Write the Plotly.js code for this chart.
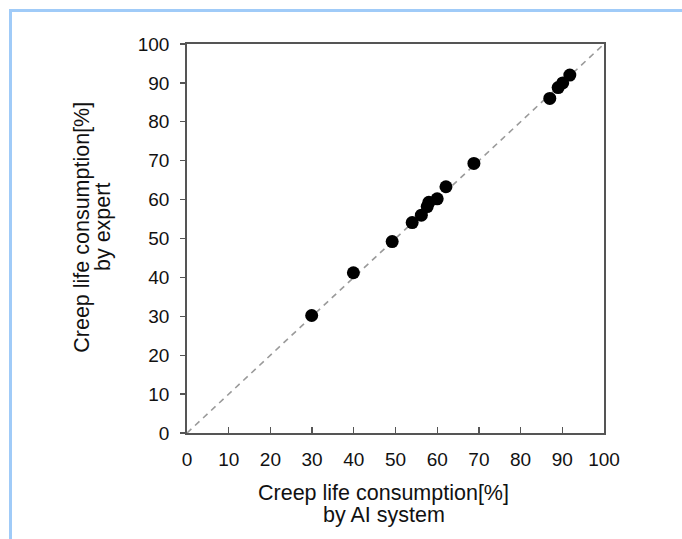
<!DOCTYPE html>
<html>
<head>
<meta charset="utf-8">
<script src="https://cdn.plot.ly/plotly-3.0.1.min.js"></script>
<style>
  html, body { margin: 0; padding: 0; background: #fff; }
  #wrap { position: relative; width: 682px; height: 539px; overflow: hidden; }
  #chart { position: absolute; left: 0; top: 0; width: 682px; height: 539px; }
  #frame { position: absolute; left: 9px; top: 9px; width: 700px; height: 560px;
           border-left: 3px solid #a0cbf8; border-top: 3px solid #a0cbf8; pointer-events: none; }
</style>
</head>
<body>
<div id="wrap">
  <div id="chart"></div>
  <div id="frame"></div>
</div>
<script>
// Creep life consumption [%]
var aiSystem = [29.9, 39.9, 49.2, 54.0, 56.2, 57.6, 58.0, 60.0, 62.1, 68.8, 87.0, 89.0, 90.1, 91.8];
var expert   = [30.2, 41.2, 49.2, 54.1, 56.0, 58.2, 59.3, 60.2, 63.3, 69.3, 86.0, 88.8, 90.0, 92.0];
var refLineX = [0, 100];
var refLineY = [0, 100];
var tickVals = [0, 10, 20, 30, 40, 50, 60, 70, 80, 90, 100];
var xTitleLines = ["Creep life consumption[%]", "by AI system"];
var yTitleLines = ["Creep life consumption[%]", "by expert"];

var font = "Liberation Sans, Arial, sans-serif";
var titleFont = { family: font, size: 21.5, color: "#111" };

var traces = [
  {
    x: refLineX, y: refLineY, mode: "lines", type: "scatter",
    line: { color: "#9a9a9a", width: 1.6, dash: "6px,5px" },
    hoverinfo: "skip", showlegend: false
  },
  {
    x: aiSystem, y: expert, mode: "markers", type: "scatter",
    marker: { color: "#000", size: 13 },
    showlegend: false, cliponaxis: false
  }
];

var annotations = [
  { text: xTitleLines[0], xref: "paper", yref: "paper", x: 0.472, y: -0.154, xanchor: "center", yanchor: "middle", showarrow: false, font: titleFont },
  { text: xTitleLines[1], xref: "paper", yref: "paper", x: 0.472, y: -0.211, xanchor: "center", yanchor: "middle", showarrow: false, font: titleFont },
  { text: yTitleLines[0], xref: "paper", yref: "paper", x: -0.252, y: 0.53, xanchor: "center", yanchor: "middle", textangle: -90, showarrow: false, font: titleFont },
  { text: yTitleLines[1], xref: "paper", yref: "paper", x: -0.201, y: 0.53, xanchor: "center", yanchor: "middle", textangle: -90, showarrow: false, font: titleFont }
];

var layout = {
  width: 682, height: 539,
  margin: { l: 187, r: 78, t: 44, b: 106 },
  paper_bgcolor: "#fff", plot_bgcolor: "#fff",
  font: { family: font, color: "#111", size: 17 },
  showlegend: false,
  annotations: annotations,
  xaxis: {
    range: [0, 100], tickvals: tickVals, ticktext: tickVals.map(String),
    showgrid: false, zeroline: false,
    showline: true, mirror: true, linecolor: "#555", linewidth: 1.8,
    ticks: "inside", ticklen: 6, tickcolor: "#555", tickwidth: 1.3,
    ticklabelstandoff: 8,
    tickfont: { family: font, size: 19, color: "#111" }
  },
  yaxis: {
    range: [0, 100], tickvals: tickVals, ticktext: tickVals.map(String),
    showgrid: false, zeroline: false,
    showline: true, mirror: true, linecolor: "#555", linewidth: 1.8,
    ticks: "outside", ticklen: 5, tickcolor: "#555", tickwidth: 1.3,
    ticklabelstandoff: 7,
    tickfont: { family: font, size: 19, color: "#111" }
  }
};

Plotly.newPlot("chart", traces, layout, { displayModeBar: false, staticPlot: true });
</script>
</body>
</html>
